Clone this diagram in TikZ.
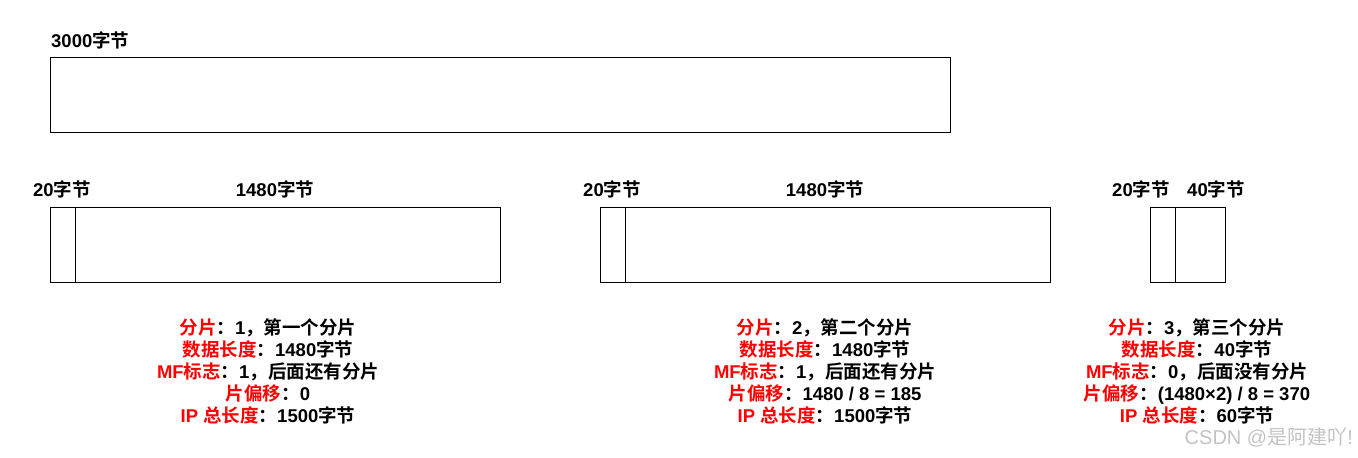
\documentclass[tikz,border=0pt]{standalone}
\usepackage{fontspec}
\setmainfont{Liberation Sans}[BoldFont={Liberation Sans Bold}]
\newfontfamily\cjk{Noto Sans CJK SC}[BoldFont={* Bold}]
\newcommand\K[1]{{\cjk #1}}
\newcommand\Rd[1]{\textcolor{fieldred}{#1}}
\definecolor{fieldred}{RGB}{255,0,0}
\definecolor{wmgray}{RGB}{195,195,195}
\begin{document}
\begin{tikzpicture}[x=1pt,y=-1pt,
  lbl/.style={font=\fontsize{18.5}{22}\selectfont\bfseries, inner sep=0pt},
  info/.style={font=\fontsize{18.5}{22}\selectfont\bfseries, align=center, inner sep=0pt, anchor=north},
  box/.style={draw=black, line width=1pt}]
\useasboundingbox (0,0) rectangle (1358,458);
% big box
\draw[box] (50,57) rectangle (950,132);
\node[lbl, anchor=west] (l3000) at (51,40) {3000\K{字节}};
% fragment 1
\draw[box] (50,207) rectangle (500,282);
\draw[box] (75,207) -- (75,282);
\node[lbl] (h1) at (62,189) {20\K{字节}};
\node[lbl] (d1) at (275,189) {1480\K{字节}};
% fragment 2
\draw[box] (600,207) rectangle (1050,282);
\draw[box] (625,207) -- (625,282);
\node[lbl] (h2) at (612,189) {20\K{字节}};
\node[lbl] (d2) at (825,189) {1480\K{字节}};
% fragment 3
\draw[box] (1150,207) rectangle (1225,282);
\draw[box] (1175,207) -- (1175,282);
\node[lbl] (h3) at (1141,189) {20\K{字节}};
\node[lbl] (d3) at (1216,189) {40\K{字节}};
% info blocks
\node[info] (i1) at (268,318) {%
\Rd{\K{分片}}\K{：}1\K{，第一个分片}\\
\Rd{\K{数据长度}}\K{：}1480\K{字节}\\
\Rd{MF\K{标志}}\K{：}1\K{，后面还有分片}\\
\Rd{\K{片偏移}}\K{：}0\\
\Rd{IP \K{总长度}}\K{：}1500\K{字节}};
\node[info] (i2) at (825,318) {%
\Rd{\K{分片}}\K{：}2\K{，第二个分片}\\
\Rd{\K{数据长度}}\K{：}1480\K{字节}\\
\Rd{MF\K{标志}}\K{：}1\K{，后面还有分片}\\
\Rd{\K{片偏移}}\K{：}1480 / 8 = 185\\
\Rd{IP \K{总长度}}\K{：}1500\K{字节}};
\node[info] (i3) at (1197,318) {%
\Rd{\K{分片}}\K{：}3\K{，第三个分片}\\
\Rd{\K{数据长度}}\K{：}40\K{字节}\\
\Rd{MF\K{标志}}\K{：}0\K{，后面没有分片}\\
\Rd{\K{片偏移}}\K{：}(1480×2) / 8 = 370\\
\Rd{IP \K{总长度}}\K{：}60\K{字节}};
% watermark
\node[font=\fontsize{20}{22}\selectfont, text=wmgray, anchor=east, inner sep=0pt] (wm) at (1353,437) {CSDN @\K{是阿建吖}!};
\end{tikzpicture}
\end{document}
